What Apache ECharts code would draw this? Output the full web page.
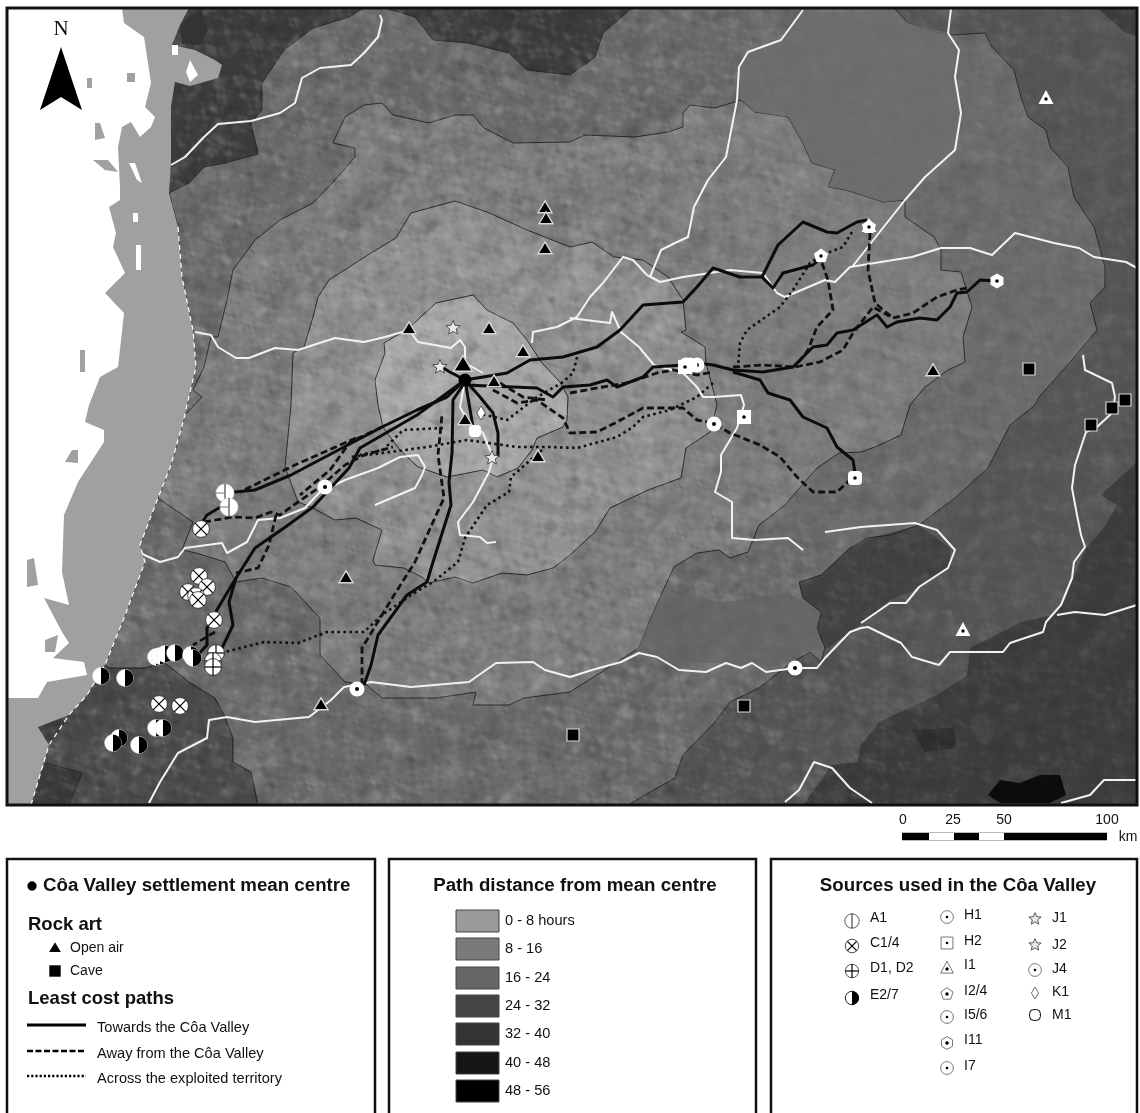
<!DOCTYPE html>
<html><head><meta charset="utf-8">
<style>html,body{margin:0;padding:0;background:#fff}#c{width:1140px;height:1113px}</style>
<script src="https://cdn.jsdelivr.net/npm/echarts@6/dist/echarts.min.js"></script>
</head><body><div id="c"></div>
<script>
// ---- Map geometry (map x / map y)
const zoneSW=[[7,805],[7,700],[38,727],[49,745],[105,665],[109,668],[145,668],[164,662],[189,682],[215,698],[225,717],[233,738],[233,762],[251,772],[258,805]];
const zoneSWCorner=[[47,763],[82,773],[69,805],[20,805]];
const zoneEast=[[894,8],[1097,8],[1126,33],[1137,36],[1137,462],[1101,495],[1117,505],[1104,528],[1086,548],[1072,582],[1054,615],[1021,622],[970,648],[967,675],[937,695],[879,722],[861,745],[857,762],[832,765],[803,805],[628,805],[640,400]];
const zone4=[[169,193],[189,183],[204,167],[225,163],[258,154],[251,123],[262,110],[262,83],[284,50],[313,28],[349,17],[364,8],[385,8],[415,17],[433,40],[469,43],[509,53],[527,70],[570,75],[595,57],[603,33],[632,8],[894,8],[908,23],[934,32],[952,35],[985,33],[992,47],[1014,70],[1021,97],[1028,117],[1046,130],[1050,147],[1068,167],[1074,197],[1094,227],[1105,267],[1105,287],[1090,303],[1097,330],[1072,360],[1039,397],[1035,405],[1010,425],[988,468],[955,498],[919,525],[890,535],[868,538],[850,548],[821,575],[799,582],[803,598],[821,612],[817,628],[825,648],[821,662],[810,652],[788,665],[759,688],[730,702],[715,722],[683,755],[675,778],[650,792],[628,805],[258,805],[251,772],[233,762],[233,738],[225,717],[215,698],[189,682],[164,662],[145,668],[109,668],[105,665],[124,618],[145,562],[140,545],[158,498],[171,465],[185,415],[187,405],[196,367],[193,330],[182,277],[178,227]];
const zone3=[[570,142],[513,143],[484,128],[473,115],[455,115],[429,123],[393,115],[382,103],[364,105],[345,117],[333,143],[355,148],[355,157],[335,180],[313,203],[280,220],[255,240],[233,270],[227,300],[218,337],[211,337],[204,367],[193,390],[202,397],[185,415],[171,465],[158,498],[193,522],[182,550],[196,553],[225,562],[236,582],[262,578],[291,587],[320,618],[320,655],[345,682],[367,685],[382,698],[436,698],[476,692],[473,705],[509,705],[524,698],[570,692],[617,662],[639,648],[648,625],[661,595],[674,567],[697,553],[719,550],[730,558],[748,552],[759,525],[785,505],[817,468],[839,453],[861,452],[875,447],[901,435],[910,405],[925,387],[948,370],[965,362],[963,337],[972,307],[961,272],[941,270],[941,250],[934,237],[905,217],[905,200],[883,202],[846,190],[828,187],[835,170],[812,163],[803,143],[788,117],[755,112],[741,100],[715,108],[690,105],[683,113],[683,127],[668,132],[635,137],[585,135]];
const zone2=[[291,405],[293,353],[304,347],[313,317],[318,297],[329,280],[371,253],[396,238],[411,213],[455,201],[487,212],[527,230],[570,247],[592,242],[614,257],[643,260],[668,277],[683,300],[686,330],[681,332],[705,347],[706,363],[715,397],[717,405],[710,432],[686,448],[681,478],[648,490],[610,508],[595,532],[570,555],[553,568],[527,575],[502,573],[473,583],[455,577],[429,583],[422,577],[404,568],[375,565],[373,560],[382,530],[356,518],[335,520],[313,508],[298,502],[285,467]];
const zone1=[[378,405],[375,380],[385,353],[384,343],[409,328],[436,303],[473,295],[487,310],[513,323],[527,340],[542,363],[560,382],[568,397],[567,420],[563,427],[537,438],[532,450],[518,468],[497,477],[483,470],[447,477],[418,467],[400,450],[383,427]];
const flatNorth=[[741,100],[739,67],[748,52],[781,40],[803,12],[894,12],[908,23],[948,33],[958,50],[955,77],[961,113],[955,150],[925,177],[905,200],[883,202],[846,190],[828,187],[835,170],[812,163],[803,143],[788,117],[755,112]];
const flatSouth=[[661,595],[726,602],[788,592],[803,602],[821,612],[817,628],[823,648],[803,653],[773,667],[715,663],[661,662],[635,652],[648,625]];
const ridgeLobe=[[821,575],[850,548],[880,535],[919,525],[950,548],[950,565],[915,590],[890,600],[860,625],[825,650],[817,628],[821,612],[803,598],[799,582]];
const darkPeak=[[988,795],[1000,780],[1020,783],[1040,775],[1060,775],[1066,795],[1050,803],[1000,803]];
const darkBasin=[[912,730],[954,728],[956,748],[925,752]];
const seaGrey=[[100,8],[189,8],[180,25],[172,45],[195,50],[215,60],[222,65],[218,78],[190,86],[175,82],[171,107],[171,163],[169,193],[178,227],[182,277],[193,330],[196,367],[187,405],[185,415],[171,465],[158,498],[140,545],[145,562],[124,618],[105,665],[87,695],[69,715],[38,727],[49,745],[31,805],[7,805],[7,400]];
const seaWhite=[[7,8],[122,8],[124,23],[144,37],[151,83],[145,107],[155,117],[151,127],[140,137],[131,122],[122,127],[118,147],[120,187],[120,200],[109,207],[116,233],[113,247],[125,273],[105,293],[124,313],[118,367],[100,377],[89,405],[85,422],[104,430],[104,442],[78,482],[64,515],[62,572],[69,605],[44,598],[62,632],[69,643],[53,658],[84,662],[87,675],[47,682],[38,698],[7,698]];
const greyIslets=[[[87,78],[92,78],[92,88],[87,88]],[[127,73],[135,73],[135,82],[127,82]],[[95,123],[100,123],[105,138],[95,140]],[[93,160],[108,160],[118,172],[105,170]],[[27,560],[34,558],[38,585],[27,587]],[[65,462],[72,450],[78,450],[78,463]],[[45,640],[58,635],[55,652],[45,652]],[[80,350],[85,350],[85,372],[80,372]]];
const whiteIslets=[[[133,213],[138,213],[138,222],[133,222]],[[136,245],[141,245],[141,270],[136,270]],[[129,163],[135,163],[142,183],[137,180]],[[129,97],[133,97],[138,107],[131,107]],[[172,45],[178,45],[178,55],[172,55]],[[190,60],[198,75],[190,82],[186,72]]];
const darkIslets=[[[153,10],[165,8],[158,16]],[[180,25],[200,8],[208,30],[200,45],[182,44]],[[186,65],[200,62],[198,78],[188,78]]];
const coastWhite=[[178,227],[182,277],[193,330],[196,367],[187,405],[185,415],[171,465],[158,498],[140,545],[145,562],[124,618],[105,665],[87,695],[69,715],[49,745],[31,805]];

const rivers=[
[[380,15],[382,20],[378,37],[364,53],[351,65],[320,68],[302,78],[295,103],[280,113],[251,121],[218,124],[204,137],[185,157],[171,165]],
[[195,332],[211,335],[218,347],[236,358],[249,358],[275,348],[298,350],[335,338],[364,342],[385,337],[409,330],[418,342],[451,348],[460,340],[465,347],[465,363],[483,373]],
[[532,343],[533,332],[557,327],[577,317],[590,297],[603,283],[623,257],[633,260],[647,275],[660,282],[683,277],[730,270],[763,273],[777,293],[785,297],[825,280],[835,282],[850,267],[912,257],[941,248],[970,248],[992,255],[1015,233],[1054,243],[1079,248],[1094,257],[1126,262],[1137,268]],
[[570,318],[610,323],[612,312],[621,332],[639,347],[654,365],[683,373],[697,387],[703,397],[714,397],[741,395],[744,405],[737,428],[721,455],[721,472],[715,492],[732,502],[732,538],[755,540],[788,538],[803,550]],
[[650,277],[661,250],[675,243],[688,237],[694,207],[708,180],[726,157],[737,100],[739,67],[748,52],[781,40],[803,10]],
[[852,267],[905,200],[925,177],[955,150],[961,113],[955,77],[959,50],[948,33],[951,9]],
[[1083,355],[1085,370],[1112,383],[1115,397],[1112,413],[1097,427],[1086,432],[1075,465],[1072,488],[1077,515],[1081,535],[1085,547],[1074,562],[1072,578],[1061,605],[1046,622],[1043,632],[1010,643],[1003,652],[974,652],[950,652],[939,665],[912,657],[901,643],[868,627],[861,628],[850,632],[825,658],[817,668],[795,668],[766,672],[752,663],[741,668],[726,663],[706,672],[679,670],[657,657],[639,653],[621,662],[592,670],[570,677],[545,670],[533,662],[496,663],[469,682],[411,687],[371,682],[344,687],[331,700],[309,717],[255,722],[227,717],[209,720],[207,738],[178,753],[160,782],[149,803]],
[[861,623],[890,603],[906,603],[919,587],[948,568],[955,550],[937,530],[915,523],[861,527],[825,532]],
[[1057,615],[1075,612],[1105,615],[1137,605]],
[[785,802],[799,790],[814,762],[832,768],[850,788],[872,803]],
[[1061,803],[1090,795],[1104,780],[1137,780]],
[[140,553],[160,562],[178,557],[185,548],[222,543],[227,553],[247,542],[258,520],[280,518],[305,508],[320,492],[345,480],[378,468],[400,457],[418,455],[425,467],[422,475],[415,488],[375,505]],
[[465,380],[460,407],[467,420],[483,433],[493,457],[489,472],[473,502],[458,522],[460,535],[480,537],[487,543],[496,542]]
];

const solidPaths=[
[[465,380],[507,373],[530,360],[563,357],[597,347],[620,330],[643,305],[683,302],[697,287],[713,268],[740,277],[762,277],[773,288],[783,273],[813,265],[822,257]],
[[762,277],[778,245],[803,222],[827,232],[837,233],[857,222],[867,220]],
[[465,385],[537,388],[553,397],[563,387],[590,385],[607,380],[617,387],[643,377],[653,367],[683,365],[697,363],[713,365],[733,370],[763,372],[793,367],[813,347],[827,345],[837,333],[853,330],[877,315],[887,327],[897,322],[920,318],[937,320],[950,307],[957,293],[967,292],[980,280],[997,281]],
[[733,372],[760,380],[768,393],[790,400],[803,417],[827,428],[837,447],[853,460],[855,473]],
[[465,380],[447,397],[417,410],[382,427],[291,475],[255,490],[225,493]],
[[229,502],[207,515],[198,528]],
[[465,380],[417,415],[360,448],[349,468],[313,507],[284,528],[255,548],[236,578],[229,602],[233,625],[222,648]],
[[236,578],[218,608],[207,628],[207,645],[196,657]],
[[465,382],[453,400],[452,453],[449,482],[451,505],[433,562],[427,582],[407,595],[378,635],[371,665],[364,685]],
[[465,380],[480,397],[493,413],[498,433],[498,457]],
[[465,380],[473,427]],
[[465,380],[450,372],[438,365]]
];
const dashedPaths=[
[[204,522],[233,517],[255,518],[271,512],[280,515],[298,502],[320,487],[345,465],[364,455],[393,447]],
[[276,515],[269,545],[258,568],[236,573]],
[[362,685],[362,648],[396,592],[415,562],[433,522],[444,498],[438,455],[442,415]],
[[215,632],[193,645]],
[[493,390],[517,403],[537,400],[563,418],[570,433],[597,432],[617,422],[643,408],[683,408],[697,420],[713,423],[730,433],[760,445],[780,457],[797,477],[813,492],[837,492],[850,480]],
[[500,383],[523,397],[547,400]],
[[570,393],[603,387],[627,383],[657,373],[673,370],[697,375],[713,372]],
[[733,367],[763,365],[795,367],[820,362],[843,350],[853,333],[873,307],[893,318],[913,313],[937,297],[957,290],[967,288]],
[[822,263],[828,280],[833,310],[817,327],[808,350],[795,367]],
[[870,233],[868,270],[875,303],[893,318]],
[[356,438],[295,465],[240,492]],
[[382,427],[350,442],[330,470],[300,495]]
];
const dottedPaths=[
[[852,232],[843,247],[822,255],[810,263],[793,290],[780,307],[747,330],[740,343],[738,367]],
[[577,357],[573,373],[563,382],[537,397],[507,420],[477,413]],
[[713,383],[697,397],[670,410],[643,417],[633,427],[617,437],[577,448],[550,447],[517,447],[467,440],[427,447],[383,453],[350,457]],
[[443,428],[403,430],[383,450],[360,455]],
[[542,450],[511,477],[509,492],[487,505],[465,538],[458,562],[433,582],[411,595],[382,615],[364,632],[327,632],[298,643],[264,642],[225,652]]
];

const rockOpenAir=[[545,208],[546,219],[545,249],[409,329],[489,329],[523,352],[494,382],[465,420],[538,457],[346,578],[321,705],[933,371]];
const rockOpenAirLarge=[[463,365]];
const rockCave=[[1029,369],[1091,425],[1112,408],[1125,400],[744,706],[573,735]];
const srcA=[[225,493],[229,507]];
const srcC=[[201,529],[199,576],[207,587],[188,592],[196,596],[198,600],[214,620],[159,704],[180,706]];
const srcD=[[216,653],[213,661],[213,667]];
const srcE=[[101,676],[125,678],[156,657],[160,656],[165,654],[175,653],[191,655],[193,658],[156,728],[163,728],[119,738],[113,743],[139,745]];
const srcRing=[[325,487],[795,668],[697,365],[690,365],[686,365],[714,424],[357,689]];
const srcSquare=[[744,417],[685,367]];
const srcRound=[[855,478]];
const srcTri=[[1046,98],[963,630],[869,226]];
const srcPent=[[821,256],[869,227]];
const srcHex=[[997,281]];
const srcStar=[[453,328],[440,367],[492,458]];
const srcDiamond=[[481,413]];
const srcM=[[475,431]];
const meanCentre=[[465,380]];

// ---- Legend content
const hourBands=['0 - 8 hours','8 - 16','16 - 24','24 - 32','32 - 40','40 - 48','48 - 56'];
const bandColours=['#9a9a9a','#7a7a7a','#666666','#444444','#333333','#151515','#000000'];
const scaleTicks=['0','25','50','100'];
const sourcesCol1=['A1','C1/4','D1, D2','E2/7'];
const sourcesCol2=['H1','H2','I1','I2/4','I5/6','I11','I7'];
const sourcesCol3=['J1','J2','J4','K1','M1'];
const pathLabels=['Towards the Côa Valley','Away from the Côa Valley','Across the exploited territory'];

// ---- Terrain relief texture (decorative shading only, no chart data)
function reliefCanvas(W,H){
  const cv=document.createElement('canvas');cv.width=W;cv.height=H;
  const ctx=cv.getContext('2d');const img=ctx.createImageData(W,H);
  const hash=(i,j)=>{const s=Math.sin(i*127.1+j*311.7)*43758.5453;return s-Math.floor(s)};
  const vn=(x,y)=>{const i=Math.floor(x),j=Math.floor(y),f=x-i,g=y-j,u=f*f*(3-2*f),v=g*g*(3-2*g);
    const a=hash(i,j),b=hash(i+1,j),c=hash(i,j+1),d=hash(i+1,j+1);return a+(b-a)*u+(c-a)*v+(a-b-c+d)*u*v};
  const hh=new Float32Array((W+2)*(H+2));
  const ca=Math.cos(-0.75),sa=Math.sin(-0.75);
  for(let y=0;y<H+2;y++)for(let x=0;x<W+2;x++){
    const a=x*ca-y*sa,b=x*sa+y*ca;
    hh[y*(W+2)+x]=vn(a/30,b/12)*0.7+vn(a/14,b/6)*0.35+vn(a/6,b/3)*0.12;
  }
  for(let y=0;y<H;y++)for(let x=0;x<W;x++){
    const s=(hh[(y+2)*(W+2)+x+2]-hh[y*(W+2)+x])*1.25;
    // relief fades towards the flatter eastern half of the map
    const fade=x<640?1:Math.max(0.45,1-(x-640)/700);
    const k=(y*W+x)*4,v=s>0?255:0;
    img.data[k]=v;img.data[k+1]=v;img.data[k+2]=v;img.data[k+3]=Math.min(Math.abs(s)*fade,0.2)*255;
  }
  ctx.putImageData(img,0,0);return cv;
}
const relief=reliefCanvas(1140,810);

// ---- Layers drawn through the value axes
function polyLayer(polys,style,z){
  return {type:'custom',coordinateSystem:'cartesian2d',silent:true,z:z,clip:false,
    data:polys.map((_,i)=>[i]),
    renderItem:(p,api)=>({type:'polygon',shape:{points:polys[p.dataIndex].map(q=>api.coord(q))},style:style})};
}
function lineLayer(lines,style,z){
  return {type:'custom',coordinateSystem:'cartesian2d',silent:true,z:z,clip:false,
    data:lines.map((_,i)=>[i]),
    renderItem:(p,api)=>({type:'polyline',shape:{points:lines[p.dataIndex].map(q=>api.coord(q))},
      style:Object.assign({fill:null,lineJoin:'round',lineCap:'butt'},style)})};
}
const contour={stroke:'#2b2b2b',lineWidth:1};
function reg(n,r,rot){const a=[];for(let i=0;i<n;i++){const t=(rot||0)+i*2*Math.PI/n;a.push([Math.sin(t)*r,-Math.cos(t)*r])}return a}
function star(r){const a=[];for(let i=0;i<10;i++){const t=i*Math.PI/5,R=i%2?r*0.45:r;a.push([Math.sin(t)*R,-Math.cos(t)*R])}return a}
function shift(pts,c){return pts.map(q=>[q[0]+c[0],q[1]+c[1]])}
const blk='#000',wht='#fff';
const dot=(c,r)=>({type:'circle',shape:{cx:c[0],cy:c[1],r:r||1.8},style:{fill:blk}});
const glyphs={
 tri:(c,s)=>[{type:'polygon',shape:{points:shift([[0,-9*s],[9*s,6*s],[-9*s,6*s]],c)},style:{fill:blk,stroke:'#d8d8d8',lineWidth:s<.7?0:1.4}}],
 cave:(c,s)=>[{type:'rect',shape:{x:c[0]-6*s,y:c[1]-6*s,width:12*s,height:12*s},style:{fill:blk,stroke:'#d8d8d8',lineWidth:s<1?0:1.2}}],
 A:(c,s)=>[{type:'circle',shape:{cx:c[0],cy:c[1],r:9*s},style:{fill:wht,stroke:s<1?'#333':'#ddd',lineWidth:.8}},
   {type:'line',shape:{x1:c[0],y1:c[1]-9*s,x2:c[0],y2:c[1]+9*s},style:{stroke:'#222',lineWidth:1}},
   {type:'line',shape:{x1:c[0]-9*s,y1:c[1],x2:c[0],y2:c[1]},style:{stroke:'#555',lineWidth:s<1?0:.8}}],
 C:(c,s)=>{const d=5.8*s;return [{type:'circle',shape:{cx:c[0],cy:c[1],r:8.4*s},style:{fill:wht,stroke:'#222',lineWidth:.8}},
   {type:'line',shape:{x1:c[0]-d,y1:c[1]-d,x2:c[0]+d,y2:c[1]+d},style:{stroke:blk,lineWidth:1.2}},
   {type:'line',shape:{x1:c[0]+d,y1:c[1]-d,x2:c[0]-d,y2:c[1]+d},style:{stroke:blk,lineWidth:1.2}}]},
 D:(c,s)=>[{type:'circle',shape:{cx:c[0],cy:c[1],r:8.4*s},style:{fill:wht,stroke:'#222',lineWidth:.8}},
   {type:'line',shape:{x1:c[0]-8.4*s,y1:c[1],x2:c[0]+8.4*s,y2:c[1]},style:{stroke:blk,lineWidth:1.2}},
   {type:'line',shape:{x1:c[0],y1:c[1]-8.4*s,x2:c[0],y2:c[1]+8.4*s},style:{stroke:blk,lineWidth:1.2}}],
 E:(c,s)=>[{type:'circle',shape:{cx:c[0],cy:c[1],r:8.4*s},style:{fill:wht,stroke:s<1?'#222':'#eee',lineWidth:s<1?1:.6}},
   {type:'polygon',shape:{points:[...Array(13).keys()].map(i=>{const t=-Math.PI/2+i*Math.PI/12;return [c[0]+Math.cos(t)*8.4*s,c[1]+Math.sin(t)*8.4*s]})},style:{fill:blk}}],
 ring:(c,s)=>[{type:'circle',shape:{cx:c[0],cy:c[1],r:7.5*s},style:s<1?{fill:wht,stroke:'#555',lineWidth:.8}:{fill:wht}},dot(c,s<1?1.3:2)],
 sq:(c,s)=>[{type:'rect',shape:{x:c[0]-7*s,y:c[1]-7*s,width:14*s,height:14*s},style:s<1?{fill:wht,stroke:'#555',lineWidth:.8}:{fill:wht}},dot(c,s<1?1.3:1.8)],
 rnd:(c,s)=>[{type:'rect',shape:{x:c[0]-7*s,y:c[1]-7*s,width:14*s,height:14*s,r:4},style:{fill:wht}},dot(c,1.8)],
 plain:(c,s)=>[{type:'rect',shape:{x:c[0]-6*s,y:c[1]-6*s,width:12*s,height:12*s,r:4},style:s<1?{fill:wht,stroke:blk,lineWidth:1}:{fill:wht}}],
 itri:(c,s)=>[{type:'polygon',shape:{points:shift([[0,-8*s],[7.5*s,6*s],[-7.5*s,6*s]],c)},style:s<1?{fill:wht,stroke:'#555',lineWidth:.8}:{fill:wht}},dot([c[0],c[1]+1],1.7)],
 pent:(c,s)=>[{type:'polygon',shape:{points:shift(reg(5,7.5*s),c)},style:s<1?{fill:wht,stroke:'#555',lineWidth:.8}:{fill:wht}},dot(c,1.7)],
 hex:(c,s)=>[{type:'polygon',shape:{points:shift(reg(6,7.5*s),c)},style:s<1?{fill:wht,stroke:'#555',lineWidth:.8}:{fill:wht}},dot(c,1.8)],
 star:(c,s)=>[{type:'polygon',shape:{points:shift(star(7.5*s),c)},style:{fill:'#e8e8e8',stroke:'#333',lineWidth:.8}}],
 dia:(c,s)=>[{type:'polygon',shape:{points:shift([[0,-7*s],[4.2*s,0],[0,7*s],[-4.2*s,0]],c)},style:{fill:wht,stroke:'#333',lineWidth:.7}}],
 centre:(c,s)=>[{type:'circle',shape:{cx:c[0],cy:c[1],r:6.5*s},style:{fill:blk}}]
};
function markerLayer(points,kind,size,z){
  return {type:'custom',coordinateSystem:'cartesian2d',silent:true,z:z,clip:false,
    data:points.map(q=>[q[0],q[1]]),encode:{x:0,y:1},
    renderItem:(p,api)=>{const c=api.coord([api.value(0),api.value(1)]);
      return {type:'group',children:glyphs[kind](c,size)}}};
}

const legendGlyphs=[
 ['centre',[[32,886]],.72],['tri',[[55,948]],.65],['cave',[[55,971]],.95],
 ['A',[[852,921]],.8],['C',[[852,946]],.8],['D',[[852,971]],.8],['E',[[852,998]],.8],
 ['ring',[[947,917]],.85],['sq',[[947,943]],.85],['itri',[[947,968]],.85],['pent',[[947,994]],.85],['ring',[[947,1017]],.85],['hex',[[947,1043]],.85],['ring',[[947,1068]],.85],
 ['star',[[1035,919]],.85],['star',[[1035,945]],.85],['ring',[[1035,970]],.85],['dia',[[1035,993]],.85],['plain',[[1035,1015]],.9]
];

const mapRect=[[7,8],[1137,8],[1137,805],[7,805]];
const series=[
 polyLayer([mapRect],{fill:'#3d3d3d'},1),
 polyLayer([zoneEast],{fill:'#565656'},2),
 polyLayer([zoneSW],{fill:'#4c4c4c',stroke:'#2b2b2b',lineWidth:1},3),
 polyLayer([zoneSWCorner],{fill:'#3c3c3c',...contour},4),
 polyLayer([zone4],{fill:'#6b6b6b',...contour},5),
 polyLayer([zone3],{fill:'#7c7c7c',...contour},6),
 polyLayer([zone2],{fill:'#8f8f8f',...contour},7),
 polyLayer([zone1],{fill:'#a6a6a6',...contour},8),
 polyLayer([mapRect],{fill:{image:relief,repeat:'no-repeat'}},9),
 polyLayer([flatNorth],{fill:'rgba(110,110,110,0.75)'},10),
 polyLayer([flatSouth],{fill:'rgba(100,100,100,0.7)'},10),
 polyLayer([ridgeLobe,darkBasin],{fill:'rgba(0,0,0,0.22)'},10),
 polyLayer([darkPeak],{fill:'rgba(0,0,0,0.8)'},10),
 polyLayer(darkIslets,{fill:'#333'},11),
 lineLayer(rivers,{stroke:'#f2f2f2',lineWidth:2},12),
 polyLayer([seaGrey],{fill:'#a0a0a0'},13),
 polyLayer([seaWhite],{fill:'#ffffff'},14),
 polyLayer(greyIslets,{fill:'#a0a0a0'},15),
 polyLayer(whiteIslets,{fill:'#ffffff'},15),
 lineLayer([coastWhite],{stroke:'#fff',lineWidth:1.2,lineDash:[5,4]},15),
 lineLayer(dottedPaths,{stroke:'#111',lineWidth:2.6,lineDash:[2.6,3.4]},16),
 lineLayer(dashedPaths,{stroke:'#111',lineWidth:2.8,lineDash:[7,3.5]},17),
 lineLayer(solidPaths,{stroke:'#0c0c0c',lineWidth:3},18),
 markerLayer(rockOpenAir,'tri',.78,20),
 markerLayer(rockOpenAirLarge,'tri',1.05,20),
 markerLayer(rockCave,'cave',1,20),
 markerLayer(srcA,'A',1,21),markerLayer(srcC,'C',1,21),markerLayer(srcD,'D',1,21),markerLayer(srcE,'E',1,21),
 markerLayer(srcRing,'ring',1,21),markerLayer(srcSquare,'sq',1,21),markerLayer(srcRound,'rnd',1,21),
 markerLayer(srcTri,'itri',1,21),markerLayer(srcPent,'pent',1,21),markerLayer(srcHex,'hex',1,21),
 markerLayer(srcStar,'star',1,21),markerLayer(srcDiamond,'dia',1,21),markerLayer(srcM,'plain',1,22),
 markerLayer(meanCentre,'centre',1,23),
 ...legendGlyphs.map(g=>markerLayer(g[1],g[0],g[2],30))
];

// ---- Furniture (frames, legend, scale bar, north arrow)
const F='"Liberation Sans",Arial,sans-serif';
const T=(x,y,text,size,opt)=>({type:'text',z:40,style:{x,y,text,fill:'#111',font:(opt&&opt.bold?'bold ':'')+size+'px '+F,textAlign:(opt&&opt.align)||'left',textVerticalAlign:'middle'}});
const g=[];
g.push({type:'rect',z:35,shape:{x:7,y:8,width:1130,height:797},style:{fill:null,stroke:'#111',lineWidth:3}});
g.push({type:'polygon',z:36,shape:{points:[[61,47],[82,110],[61,97],[40,110]]},style:{fill:'#000'}});
g.push({type:'text',z:36,style:{x:61,y:29,text:'N',fill:'#111',font:'21px "Liberation Serif",serif',textAlign:'center',textVerticalAlign:'middle'}});
g.push({type:'rect',z:35,shape:{x:902,y:832,width:205,height:9},style:{fill:'#bbb'}});
[[902,27,'#000'],[929,25,'#fff'],[954,25,'#000'],[979,25,'#fff'],[1004,103,'#000']].forEach(s=>g.push({type:'rect',z:36,shape:{x:s[0],y:833,width:s[1],height:7},style:{fill:s[2]}}));
[903,953,1004,1107].forEach((x,i)=>g.push(T(x,820,scaleTicks[i],14,{align:'center'})));
g.push(T(1128,837,'km',14,{align:'center'}));
[[7,368],[389,367],[771,366]].forEach(b=>g.push({type:'polyline',z:36,shape:{points:[[b[0],1113],[b[0],859],[b[0]+b[1],859],[b[0]+b[1],1113]]},style:{fill:null,stroke:'#111',lineWidth:2.5}}));
g.push(T(43,886,'Côa Valley settlement mean centre',18.7,{bold:1}));
g.push(T(28,925,'Rock art',18.5,{bold:1}));
g.push(T(70,948,'Open air',14));g.push(T(70,971,'Cave',14));
g.push(T(28,999,'Least cost paths',18.5,{bold:1}));
[[1028,null],[1054,[6,2.5]],[1079,[2.2,2]]].forEach((r,i)=>{
  g.push({type:'line',z:36,shape:{x1:27,y1:r[0]-3,x2:86,y2:r[0]-3},style:{stroke:'#000',lineWidth:r[1]?2.4:2.8,lineDash:r[1]}});
  g.push(T(97,r[0],pathLabels[i],14.6));
});
g.push(T(575,886,'Path distance from mean centre',18.7,{bold:1,align:'center'}));
const bandY=[910,938,967,995,1023,1052,1080];
hourBands.forEach((b,i)=>{
  g.push({type:'rect',z:36,shape:{x:456,y:bandY[i],width:43,height:22},style:{fill:bandColours[i],stroke:'#444',lineWidth:1}});
  g.push(T(505,bandY[i]+11,b,14.6));
});
g.push(T(958,886,'Sources used in the Côa Valley',18.7,{bold:1,align:'center'}));
[918,943,968,995].forEach((y,i)=>g.push(T(870,y,sourcesCol1[i],14)));
[915,941,965,991,1015,1040,1066].forEach((y,i)=>g.push(T(964,y,sourcesCol2[i],14)));
[918,945,969,992,1015].forEach((y,i)=>g.push(T(1052,y,sourcesCol3[i],14)));

const chart=echarts.init(document.getElementById('c'),null,{renderer:'canvas',devicePixelRatio:1});
chart.setOption({
  animation:false,backgroundColor:'#fff',tooltip:{show:false},
  grid:{left:0,right:0,top:0,bottom:0,containLabel:false},
  xAxis:{type:'value',min:0,max:1140,show:false},
  yAxis:{type:'value',min:0,max:1113,inverse:true,show:false},
  series:series,
  graphic:{elements:g}
});
</script></body></html>
